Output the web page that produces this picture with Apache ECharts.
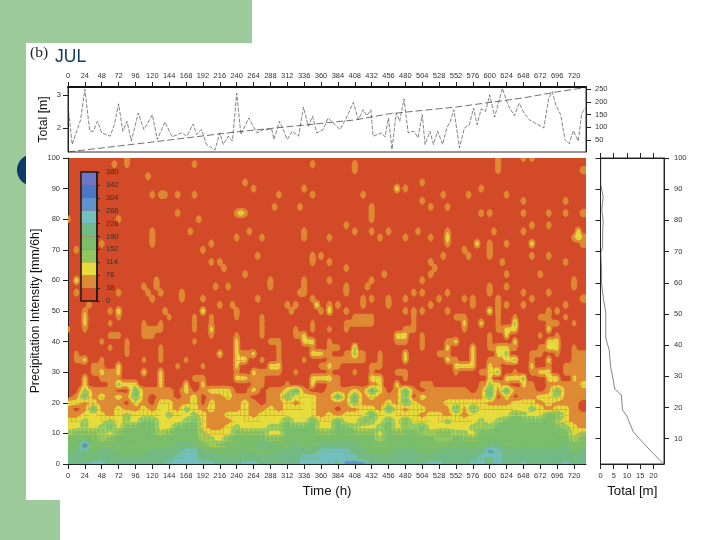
<!DOCTYPE html>
<html><head><meta charset="utf-8">
<style>html,body{margin:0;padding:0;background:#fff}#main{width:720px;height:540px;filter:blur(0.35px)}</style>
<script src="https://cdn.jsdelivr.net/npm/echarts@6/dist/echarts.min.js"></script>
</head><body><div id="main"></div>
<script>
// tick labels
const timeTicks = [0,24,48,72,96,120,144,168,192,216,240,264,288,312,336,360,384,408,432,456,480,504,528,552,576,600,624,648,672,696,720];
const totalTicks = [2,3];
const cumulTicks = [50,100,150,200,250];
const intensityTicks = [0,10,20,30,40,50,60,70,80,90,100];
const profileYTicks = [10,20,30,40,50,60,70,80,90,100];
const profileXTicks = [0,5,10,15,20];
// colour key: 10 bands, each 38 counts wide
const bandStep = 38;
const bandColors = ['#d24a27','#df8a35','#e6dc3e','#8fc660','#7abd6b','#72ba88','#74bfc0','#5f93cf','#4a78c4','#6c78c6'];
// top panel: total per time step [hour, metres]
const totalSeries = [[0,2.65],[6,1.5],[18,2.25],[24,3.17],[31,1.9],[36,1.9],[42,2.2],[48,1.85],[60,1.75],[66,2.1],[72,2.73],[78,1.9],[84,2.2],[90,1.6],[100,2.45],[108,1.95],[120,2.4],[127,1.65],[138,2.18],[148,1.73],[162,1.85],[169,1.75],[178,2.12],[183,1.8],[190,1.95],[197,1.5],[209,1.33],[216,1.85],[221,1.5],[228,1.75],[234,1.6],[240,3.05],[246,1.8],[257,2.3],[269,1.85],[278,1.95],[290,1.95],[293,1.65],[301,2.2],[312,1.65],[319,1.9],[328,1.75],[335,2.63],[342,2.05],[348,2.35],[354,1.85],[363,1.95],[370,2.3],[387,1.95],[396,2.3],[406,2.77],[413,2.25],[420,2.55],[425,2.37],[431,2.55],[434,1.75],[436,1.7],[446,1.85],[451,1.73],[456,2.3],[461,1.35],[467,2.45],[472,2.2],[478,2.88],[484,1.85],[492,1.9],[498,1.7],[504,2.4],[508,1.5],[515,1.9],[520,1.5],[526,1.9],[533,1.5],[539,2.0],[544,2.2],[549,2.55],[557,1.4],[564,2.0],[571,2.1],[577,2.6],[582,2.1],[588,2.58],[594,2.5],[600,3.0],[607,2.33],[618,3.2],[626,2.7],[635,2.37],[642,2.75],[649,2.45],[656,2.25],[677,2.0],[684,2.9],[689,3.1],[694,2.7],[701,2.4],[707,1.65],[713,1.52],[719,1.92],[726,1.6],[731,2.45],[736,2.6]];
// top panel: accumulated total [hour, metres]
const cumulSeries = [[0,3],[96,34],[240,82],[408,129],[456,153],[552,180],[648,216],[696,240],[737,257]];
// right panel: total per intensity [metres, mm/6h]
const profileSeries = [[23.5,2.2],[19.1,6],[14.8,9.9],[12.3,12.4],[11.3,14.5],[10,17.2],[8.3,19.3],[7.9,24.1],[5.4,25.9],[4.8,28.9],[3.8,33.2],[3.3,38.5],[2.5,40.7],[2,42.3],[2,50.3],[1,55.6],[0.4,59.9],[0.4,64.1],[0.1,69.5],[0.8,71.6],[0.8,75.9],[1,79.6],[0.5,83.4],[1,87.6],[0.1,91.4],[0.1,96.2],[0.1,100]];
// main panel: band index read every 12 h (groups of ten), rows for 0, 2, 4 ... 48 mm/6h
const lowRows = [
"5556655555 5566666655 5665555566 6657775555 5556655566 5655655556 55",
"5555555555 5556665555 5555555566 6666655555 5555555556 5655555555 55",
"4554554444 5555665544 4544455555 6666554445 5544555555 7655555555 45",
"4484444444 4445554344 4445544544 5555544444 4444444444 5544444445 44",
"4444344444 4444443324 4444444444 4444444344 4444334444 4444444444 34",
"3444324444 4344443222 4444224444 4444444244 4433443324 4444444444 23",
"2232342444 4224442112 3222334444 2244322342 3342222233 3444444443 21",
"2232232324 4222342111 2222224224 2242243242 4222232223 2344444432 11",
"1122212322 2232232112 2212222222 1212224222 2212212122 2224322442 11",
"1014112112 1221321211 1211212222 1101122142 1221114142 2222232122 10",
"2212111021 0221120211 1210112122 1111411121 4211122222 1112221211 10",
"0141212141 0110120112 1100114222 1141412111 4021111111 4020112231 11",
"0031110041 1110201222 0020112410 0111214201 4101111101 4141110141 11",
"0020013220 0200202000 0011001002 0110001202 0011000001 3210210111 12",
"0020111000 0200011000 2211000002 2210002200 1000000000 2022300220 21",
"0001212002 0200000000 1021110100 0100101001 1000001001 2301012201 11",
"0001102000 0001001000 2000220000 1210001100 0000002220 2100020101 11",
"0120100001 0100100000 2201010010 0111110100 2000021020 1123010200 11",
"0100000100 0100000020 2120010002 2101310100 2000110020 0230011010 11",
"0000010100 0100000000 2000010001 0110300000 0010020020 1221001220 10",
"0000100100 0000010000 2000110022 0100000001 1010012000 1002000220 00",
"0000011001 1000000100 1001000120 0000000002 2010000000 1020001010 00",
"1010000001 1100010200 0001000101 0101000000 1100000100 0122000200 00",
"0020010001 0100010100 0001000001 0001111000 0100000202 0103000110 10",
"0020001000 0010010100 1001000000 0000111000 0100001100 0101001101 00"
];
// main panel: isolated spots above 48 mm/6h [hour, mm/6h, band index]
const highSpots = [[66,98,1],[84,98,1],[84,100,1],[180,98,1],[348,98,1],[408,98,1],[612,98,1],[612,96,1],[612,100,1],[648,100,1],[660,100,1],[732,96,1],[408,96,1],[114,94,1],[252,92,1],[264,90,1],[504,92,1],[468,90,2],[480,90,1],[588,90,1],[120,88,1],[132,88,1],[138,88,1],[156,88,1],[180,88,1],[300,88,1],[336,90,1],[348,88,1],[420,88,1],[534,88,1],[570,88,1],[624,88,1],[648,86,1],[708,86,1],[504,86,1],[516,84,1],[540,84,1],[294,84,1],[330,84,1],[432,82,1],[432,80,1],[432,84,1],[588,82,1],[600,82,1],[648,82,1],[684,82,1],[708,82,1],[732,82,1],[156,82,1],[240,82,1],[246,82,2],[252,82,1],[186,80,1],[0,80,1],[72,80,1],[120,76,1],[120,74,1],[120,72,1],[174,76,1],[258,76,1],[240,74,1],[276,74,1],[336,74,1],[336,76,1],[396,78,1],[408,76,1],[432,76,1],[456,76,1],[444,74,1],[480,74,1],[498,76,1],[516,74,1],[540,76,1],[540,74,2],[540,72,1],[372,74,1],[606,76,1],[648,76,1],[660,78,1],[684,78,1],[726,76,2],[726,74,2],[720,74,1],[732,72,1],[732,74,1],[204,72,1],[192,70,1],[48,72,1],[12,70,1],[582,72,2],[564,70,1],[570,68,1],[600,72,1],[624,72,1],[600,68,1],[600,70,1],[660,72,2],[660,68,1],[684,68,1],[534,68,1],[270,68,1],[348,68,1],[360,68,1],[372,66,1],[396,64,1],[204,66,1],[216,66,1],[222,64,1],[348,66,1],[522,64,1],[516,66,1],[618,66,1],[624,62,1],[708,66,1],[252,62,1],[336,60,1],[336,58,1],[336,56,1],[12,60,2],[126,60,1],[126,58,1],[288,58,1],[288,60,1],[450,62,1],[504,60,1],[516,62,1],[672,62,1],[432,60,1],[720,60,1],[426,58,1],[372,60,1],[396,58,1],[108,58,1],[120,54,1],[114,56,1],[132,56,1],[228,58,1],[210,58,1],[162,56,1],[162,54,1],[12,56,1],[24,56,1],[72,56,1],[330,56,1],[192,54,1],[270,54,1],[324,52,1],[540,56,1],[600,56,1],[612,54,1],[612,52,1],[624,58,1],[648,56,1],[684,56,1],[720,58,1],[732,54,1],[372,52,1],[396,56,1],[420,54,1],[432,54,1],[456,54,1],[480,54,1],[492,56,1],[504,56,1],[528,54,1],[564,54,1],[576,54,1],[600,58,1],[360,50,1],[372,50,2],[384,52,1],[396,50,1],[420,52,1],[456,52,1],[480,50,1],[492,50,1],[504,50,1],[516,52,1],[540,50,1],[576,52,1],[600,50,2],[612,50,1],[624,52,1],[648,52,1],[684,50,1],[696,50,1],[708,52,1],[60,50,1],[72,50,2],[30,52,1],[24,50,1],[138,50,1],[192,50,2],[216,52,1],[240,50,1],[234,52,1],[312,52,1],[318,50,1],[354,52,2],[348,54,1],[660,54,1]];

const hourStep = 6, mmStep = 2, timeMax = 737, mmMax = 100, nCols = 123, thinFromRow = 13;
// assemble the node grid in counts; read columns sit on even nodes, odd nodes take a contour midpoint
const grid = [];
for (let i = 0; i <= mmMax / mmStep; i++) {
  const row = new Array(nCols).fill(bandStep / 2);
  if (i < lowRows.length) {
    const s = lowRows[i].replace(/ /g, '');
    const val = k => (+(s[k] || '0')) * bandStep + bandStep / 2;
    for (let n = 0; n < nCols; n++) {
      const k = Math.floor(n / 2);
      if (n % 2 === 0) row[n] = val(k);
      else row[n] = i >= thinFromRow ? Math.min(val(k), val(k + 1)) : (val(k) + val(k + 1)) / 2 - 1;
    }
  }
  grid.push(row);
}
highSpots.forEach(([h, m, b]) => {
  const n = Math.round(h / hourStep), i = Math.round(m / mmStep);
  if (grid[i] && n < nCols) grid[i][n] = b * bandStep + 32;
});
const cells = [];
for (let i = 0; i < grid.length - 1; i++) {
  for (let j = 0; j < nCols; j++) {
    const j2 = Math.min(j + 1, nCols - 1);
    const x0 = j * hourStep, x1 = Math.min((j + 1) * hourStep, timeMax);
    cells.push([x0, i * mmStep, x1, (i + 1) * mmStep, grid[i][j], grid[i][j2], grid[i + 1][j2], grid[i + 1][j]]);
  }
}
// keep the part of a triangle whose value is at least t
function clipTri(p, t) {
  const out = [];
  for (let k = 0; k < 3; k++) {
    const a = p[k], b = p[(k + 1) % 3];
    if (a[2] >= t) out.push([a[0], a[1]]);
    if ((a[2] >= t) !== (b[2] >= t)) {
      const f = (t - a[2]) / (b[2] - a[2]);
      out.push([a[0] + f * (b[0] - a[0]), a[1] + f * (b[1] - a[1])]);
    }
  }
  return out;
}
function renderContour(params, api) {
  const x0 = api.value(0), y0 = api.value(1), x1 = api.value(2), y1 = api.value(3);
  const v = [api.value(4), api.value(5), api.value(6), api.value(7)];
  const c = [api.coord([x0, y0]), api.coord([x1, y0]), api.coord([x1, y1]), api.coord([x0, y1])];
  const corners = c.map((q, k) => [q[0], q[1], v[k]]);
  const avg = (v[0] + v[1] + v[2] + v[3]) / 4;
  const mid = [(c[0][0] + c[2][0]) / 2, (c[0][1] + c[2][1]) / 2, avg];
  const children = [];
  const lo = Math.min(...v), hi = Math.max(...v);
  const baseBand = Math.max(0, Math.floor(lo / bandStep));
  const add = (pts, band, w) => children.push({ type: 'polygon', silent: true, shape: { points: pts }, style: { fill: bandColors[band], stroke: bandColors[band], lineWidth: w } });
  if (baseBand > 0) add(c, baseBand, 1.5);
  for (let b = baseBand + 1; b * bandStep <= hi && b < bandColors.length; b++) {
    for (let k = 0; k < 4; k++) {
      const poly = clipTri([corners[k], corners[(k + 1) % 4], mid], b * bandStep);
      if (poly.length > 2) add(poly, b, 0.7);
    }
  }
  return { type: 'group', children };
}
const font = 'Liberation Sans, Arial, sans-serif';
const tickLabel = { fontSize: 7.5, color: '#333', fontFamily: font };
const nameStyle = { fontSize: 12.3, color: '#111', fontFamily: font };
const nameBig = { fontSize: 13.3, color: '#111', fontFamily: font };
function axisBase(extra) {
  return Object.assign({ type: 'value', nameMoveOverlap: false, splitLine: { show: false }, axisLine: { show: true, onZero: false, lineStyle: { color: '#222', width: 1 } }, axisTick: { show: true, length: 5, lineStyle: { color: '#222', width: 1 } } }, extra);
}
function ticked(values, margin) {
  return { axisLabel: Object.assign({ margin, customValues: values, showMinLabel: true, showMaxLabel: true }, tickLabel), axisTick: { length: 5, customValues: values, lineStyle: { color: '#222', width: 1 } } };
}
const option = {
  animation: false,
  backgroundColor: '#fff',
  graphic: { elements: [
    { type: 'rect', silent: true, shape: { x: 0, y: 0, width: 252, height: 43 }, style: { fill: '#9dcb9b' } },
    { type: 'rect', silent: true, shape: { x: 0, y: 43, width: 26, height: 457 }, style: { fill: '#9dcb9b' } },
    { type: 'rect', silent: true, shape: { x: 0, y: 500, width: 60, height: 40 }, style: { fill: '#9dcb9b' } },
    { type: 'circle', silent: true, shape: { cx: 33, cy: 170, r: 16 }, style: { fill: '#0b3c68' } },
    { type: 'rect', silent: true, shape: { x: 26, y: 43, width: 40, height: 457 }, style: { fill: '#fff' } },
    { type: 'text', silent: true, x: 30, y: 45, style: { text: '(b)', fontSize: 15.5, fontFamily: 'Liberation Serif, serif', fill: '#222' } },
    { type: 'text', silent: true, x: 55, y: 48, style: { text: 'JUL', fontSize: 17.5, fontFamily: font, fill: '#0f3a5e' } }
  ] },
  grid: [
    { left: 68, top: 87, width: 518, height: 65, show: true, borderColor: '#333', borderWidth: 1, backgroundColor: '#fff' },
    { left: 68, top: 158, width: 518, height: 306, show: true, borderWidth: 0, backgroundColor: bandColors[0] },
    { left: 600.5, top: 158, width: 63.5, height: 306, show: true, borderColor: '#333', borderWidth: 1, backgroundColor: '#fff' },
    { left: 81, top: 172, width: 16, height: 129, show: true, z: 10, borderColor: '#1c1c1c', borderWidth: 1.5, backgroundColor: 'transparent' }
  ],
  xAxis: [
    axisBase(Object.assign({ gridIndex: 0, min: 0, max: timeMax, position: 'top' }, ticked(timeTicks, 7), { axisLine: { show: true, onZero: false, lineStyle: { color: '#111', width: 2 } } })),
    axisBase(Object.assign({ gridIndex: 1, min: 0, max: timeMax, position: 'bottom', name: 'Time (h)', nameLocation: 'middle', nameGap: 21, nameTextStyle: nameBig }, ticked(timeTicks, 8))),
    axisBase(Object.assign({ gridIndex: 2, min: 0, max: 24, position: 'bottom', name: 'Total [m]', nameLocation: 'middle', nameGap: 21, nameTextStyle: nameBig }, ticked(profileXTicks, 8))),
    axisBase(Object.assign({ gridIndex: 2, min: 0, max: 24, position: 'top' }, ticked(profileXTicks, 3), { axisLabel: { show: false } })),
    { type: 'category', gridIndex: 3, data: ['band'], show: false }
  ],
  yAxis: [
    axisBase(Object.assign({ gridIndex: 0, min: 1.27, max: 3.24, position: 'left', name: 'Total [m]', nameLocation: 'middle', nameGap: 18, nameTextStyle: nameStyle }, ticked(totalTicks, 7))),
    axisBase(Object.assign({ gridIndex: 0, min: 2.6, max: 259, position: 'right' }, ticked(cumulTicks, 9))),
    axisBase(Object.assign({ gridIndex: 1, min: 0, max: mmMax, position: 'left', name: 'Precipitation Intensity [mm/6h]', nameLocation: 'middle', nameGap: 26, nameTextStyle: nameStyle }, ticked(intensityTicks, 8))),
    axisBase(Object.assign({ gridIndex: 2, min: 1.9, max: mmMax, position: 'right' }, ticked(profileYTicks, 10))),
    axisBase(Object.assign({ gridIndex: 2, min: 1.9, max: mmMax, position: 'left' }, ticked(profileYTicks, 3), { axisLabel: { show: false } })),
    Object.assign({ type: 'value', gridIndex: 3, min: 0, max: 380, interval: bandStep, position: 'right', z: 10, splitLine: { show: false }, axisLine: { show: true, lineStyle: { color: '#1c1c1c', width: 1.5 } }, axisTick: { show: true, length: 3, lineStyle: { color: '#222' } }, axisLabel: Object.assign({ margin: 9 }, tickLabel) })
  ],
  series: [
    { type: 'line', xAxisIndex: 0, yAxisIndex: 0, data: totalSeries, symbol: 'none', lineStyle: { color: '#333', width: 0.6, type: [4, 1.5] }, z: 3 },
    { type: 'line', xAxisIndex: 0, yAxisIndex: 1, data: cumulSeries, symbol: 'none', lineStyle: { color: '#333', width: 0.7, type: [7, 3] }, z: 3 },
    { type: 'custom', xAxisIndex: 1, yAxisIndex: 2, data: cells, renderItem: renderContour, clip: true, silent: true, z: 2, encode: { x: [0, 2], y: [1, 3] }, dimensions: ['x0','y0','x1','y1','a','b','c','d'], progressive: 0 },
    { type: 'line', xAxisIndex: 2, yAxisIndex: 3, data: profileSeries, symbol: 'none', lineStyle: { color: '#333', width: 0.6 }, z: 3 }
  ].concat(bandColors.map(color => ({ type: 'bar', xAxisIndex: 4, yAxisIndex: 5, stack: 'key', data: [bandStep], barWidth: '100%', itemStyle: { color }, silent: true, z: 9 })))
};
const chart = echarts.init(document.getElementById('main'), null, { renderer: 'canvas' });
chart.setOption(option);
</script></body></html>
